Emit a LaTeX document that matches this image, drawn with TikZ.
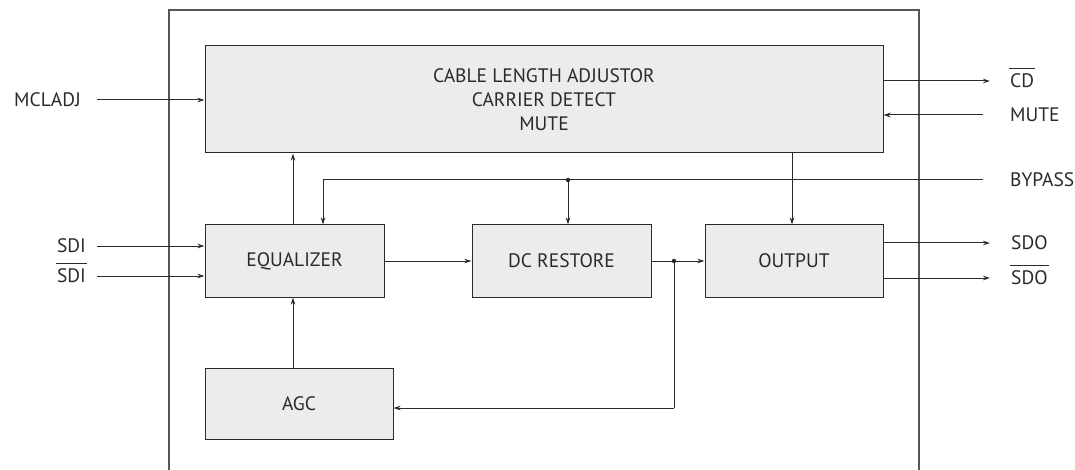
\documentclass[tikz,border=0pt]{standalone}
\usepackage{fontspec}
\setmainfont{PT Sans}
\usetikzlibrary{arrows.meta,calc}
\definecolor{boxfill}{HTML}{ECECEC}
\definecolor{ink}{HTML}{2A2A2A}
\definecolor{frame}{HTML}{555555}
\newcommand{\ovl}[1]{\setbox0\hbox{#1}\rlap{\smash{\kern-1pt\rule[\dimexpr\ht0+5pt\relax]{\dimexpr\wd0+2pt\relax}{0.9pt}}}\box0}
\begin{document}
\begin{tikzpicture}[x=1pt,y=-1pt,
  blk/.style={draw=ink,fill=boxfill,line width=1pt,inner sep=0pt,font=\fontsize{19.5}{24}\selectfont,text=ink,align=center},
  lbl/.style={font=\fontsize{19.5}{22}\selectfont,text=ink,inner sep=0pt},
  arr/.style={draw=ink,line width=1pt,-{Stealth[length=7pt,width=4.5pt]}},
  wire/.style={draw=ink,line width=1pt},
  dotc/.style={circle,fill=ink,inner sep=0pt,minimum size=4.5pt}]
\useasboundingbox (0,0) rectangle (1075,470);
% outer frame
\draw[frame,line width=1.4pt] (169,472) -- (169,10) -- (919,10) -- (919,472);
% blocks
\node[blk,minimum width=678pt,minimum height=107pt] (top) at (544,99.5) {CABLE LENGTH ADJUSTOR\\CARRIER DETECT\\MUTE};
\node[blk,minimum width=179pt,minimum height=72pt] (eq) at (294.5,261) {EQUALIZER};
\node[blk,minimum width=179pt,minimum height=72pt] (dc) at (561.5,261) {DC RESTORE};
\node[blk,minimum width=178pt,minimum height=72pt] (out) at (794,261) {OUTPUT};
\node[blk,minimum width=188pt,minimum height=71pt] (agc) at (299,403.5) {AGC};
% labels
\node[lbl,anchor=east] (mcladj) at (81,100) {MCLADJ};
\node[lbl,anchor=east] (sdi) at (86,246) {SDI};
\node[lbl,anchor=east] (sdin) at (86,276) {\ovl{SDI}};
\node[lbl,anchor=west] (cd) at (1010,81) {\ovl{CD}};
\node[lbl,anchor=west] (mute) at (1010,115) {MUTE};
\node[lbl,anchor=west] (bypass) at (1010,180) {BYPASS};
\node[lbl,anchor=west] (sdo) at (1011,243) {SDO};
\node[lbl,anchor=west] (sdon) at (1011,278) {\ovl{SDO}};
% free ends
\coordinate (mclS) at (97,100);
\coordinate (sdiS) at (97,246);
\coordinate (sdinS) at (97,276);
\coordinate (cdE) at (990,81);
\coordinate (muteS) at (983,115);
\coordinate (bypS) at (983,180);
\coordinate (sdoE) at (990,243);
\coordinate (sdonE) at (990,278);
\coordinate (bypTurn) at (323,180);
\node[dotc] (bdot) at (568,180) {};
\node[dotc] (fdot) at (674,261) {};
\coordinate (fTurn) at (674,408);
% connectors
\draw[arr] (mclS) -- (mclS -| top.west);
\draw[arr] (sdiS) -- (sdiS -| eq.west);
\draw[arr] (sdinS) -- (sdinS -| eq.west);
\draw[arr] (top.east |- cdE) -- (cdE);
\draw[arr] (muteS) -- (muteS -| top.east);
\draw[wire] (bypS) -- (bypTurn);
\draw[arr] (bypTurn) -- (bypTurn |- eq.north);
\draw[arr] (bdot) -- (bdot |- dc.north);
\draw[arr] (293,0 |- eq.north) -- (293,0 |- top.south);
\draw[arr] (eq.east) -- (dc.west);
\draw[wire] (dc.east) -- (fdot);
\draw[arr] (fdot) -- (out.west);
\draw[wire] (fdot) -- (fTurn);
\draw[arr] (fTurn) -- (fTurn -| agc.east);
\draw[arr] (293,0 |- agc.north) -- (293,0 |- eq.south);
\draw[arr] (792,0 |- top.south) -- (792,0 |- out.north);
\draw[arr] (out.east |- sdoE) -- (sdoE);
\draw[arr] (out.east |- sdonE) -- (sdonE);
\end{tikzpicture}
\end{document}
